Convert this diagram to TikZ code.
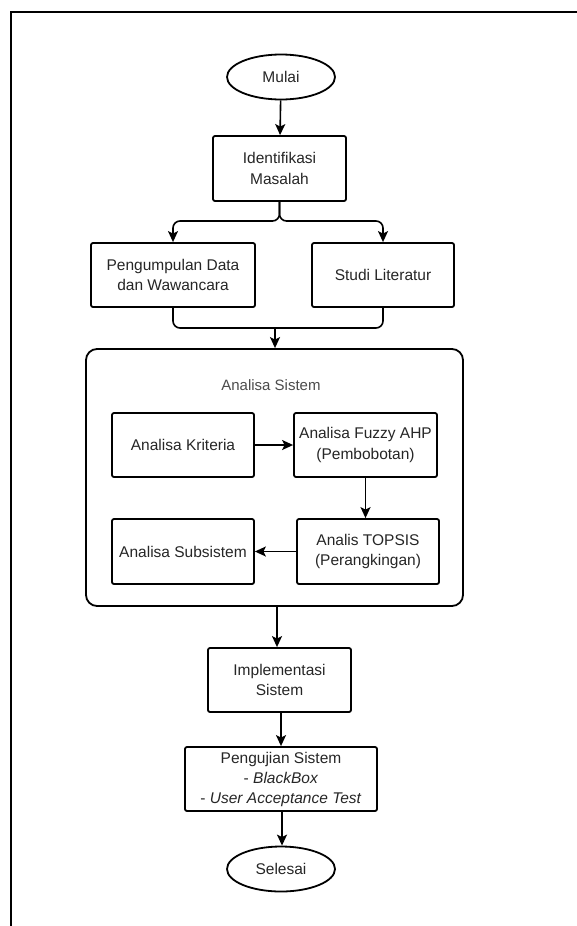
\documentclass[tikz,border=0pt]{standalone}
\usepackage{fontspec}
\setmainfont{Liberation Sans}
\usetikzlibrary{arrows.meta,shapes.geometric}
\definecolor{txt}{HTML}{262626}
\tikzset{
  box/.style={draw, line width=1.8pt, rounded corners=2pt, inner sep=1pt, align=center,
     font=\fontsize{15.5}{20.5}\selectfont, text=txt},
  term/.style={draw, ellipse, line width=1.8pt, inner sep=0pt, minimum width=108pt, minimum height=45pt,
     font=\fontsize{15.5}{20.5}\selectfont, text=txt},
  arr/.style={line width=1.6pt, -{Stealth[length=11pt,width=10pt,inset=2.5pt]}},
  ln/.style={line width=1.6pt}
}
\begin{document}
\begin{tikzpicture}[x=1pt,y=-1pt]
\useasboundingbox (0,0) rectangle (576,926);
\fill[white] (0,0) rectangle (576,926);
% outer frame
\draw[line width=1.3pt] (11,926) -- (11,12) -- (577,12);

\node[term] (mulai) at (281,77) {Mulai};
\node[box, minimum width=133pt, minimum height=65pt] (idm) at (279.5,168.5) {Identifikasi\\Masalah};
\node[box, minimum width=164pt, minimum height=64pt] (pd) at (173,275) {Pengumpulan Data\\dan Wawancara};
\node[box, minimum width=142pt, minimum height=64pt] (sl) at (383,275) {Studi Literatur};

\node[draw, line width=1.8pt, rounded corners=11pt, minimum width=377pt, minimum height=257pt] (as) at (274.5,477.5) {};
\node[font=\fontsize{15}{18}\selectfont, text=black!70] (aslbl) at (271,385) {Analisa Sistem};

\node[box, minimum width=142pt, minimum height=64pt] (ak) at (183,445) {Analisa Kriteria};
\node[box, minimum width=143pt, minimum height=64pt] (fa) at (365.5,445) {Analisa Fuzzy AHP\\(Pembobotan)};
\node[box, minimum width=142pt, minimum height=65pt] (tp) at (368,551.5) {Analis TOPSIS\\(Perangkingan)};
\node[box, minimum width=142pt, minimum height=65pt] (ss) at (183,551.5) {Analisa Subsistem};

\node[box, minimum width=143pt, minimum height=64pt] (im) at (279.5,680) {Implementasi\\Sistem};
\node[box, minimum width=192pt, minimum height=64pt, font=\fontsize{15.5}{20}\selectfont] (pj) at (281,779)
  {Pengujian Sistem\\- \textit{BlackBox}\\- \textit{User Acceptance Test}};
\node[term] (sel) at (281,869) {Selesai};

\coordinate (split) at (279.5,221);
\coordinate (merge) at (275,328);

\draw[arr] (mulai) -- (idm);
\draw[arr, rounded corners=7pt] (idm.south) -- (split) -| (pd.north);
\draw[arr, rounded corners=7pt] (idm.south) -- (split) -| (sl.north);
\draw[ln, rounded corners=7pt] (pd.south) |- (merge);
\draw[ln, rounded corners=7pt] (sl.south) |- (merge);
\draw[arr] (merge) -- (merge |- as.north);

\draw[arr] (ak) -- (fa);
\draw[arr] (fa.south) -- (fa.south |- tp.north);
\draw[arr] (tp) -- (ss);

\draw[arr] (277,606) coordinate (asb) -- (asb |- im.north);
\draw[arr] (im.south -| 281,0) coordinate (imb) -- (imb |- pj.north);
\draw[arr] (pj.south -| 282,0) coordinate (pjb) -- (pjb |- sel.north);
\end{tikzpicture}
\end{document}
